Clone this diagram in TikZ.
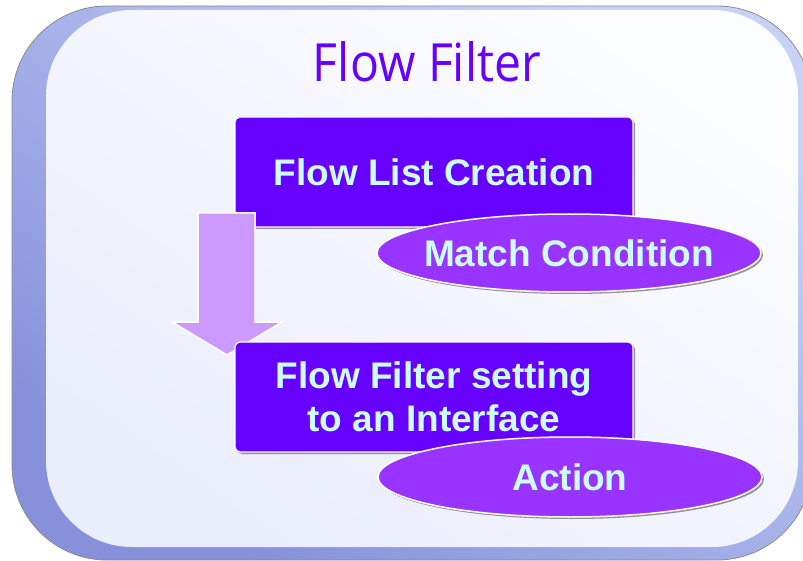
\documentclass[tikz,border=0pt]{standalone}
\usepackage{fontspec}
\setmainfont{Liberation Sans}
\newfontfamily\titlefont{Open Sans}
\usetikzlibrary{shapes.geometric,shadows}
\definecolor{boxpurple}{HTML}{6600FF}
\definecolor{ellpurple}{HTML}{9933FF}
\definecolor{arrowlilac}{HTML}{CC99FF}
\definecolor{lightcyan}{HTML}{CCFFFF}
\definecolor{frameA}{HTML}{C6D3F7}
\definecolor{frameB}{HTML}{8690DB}
\definecolor{innerA}{HTML}{FCFDFF}
\definecolor{innerB}{HTML}{EAEDFB}
\begin{document}
\begin{tikzpicture}[x=1pt,y=-1pt,
  stepbox/.style={draw=white, line width=1.2pt, fill=boxpurple, rounded corners=5pt,
    minimum width=398pt, minimum height=110pt, inner sep=0pt, text=lightcyan,
    font=\fontsize{37}{43}\selectfont\bfseries, align=center,
    drop shadow={shadow xshift=2pt, shadow yshift=-2pt, fill=black, opacity=0.4}},
  condell/.style={ellipse, draw=white, line width=1.5pt, fill=ellpurple,
    minimum width=384pt, minimum height=78pt, inner sep=0pt, text=lightcyan,
    font=\fontsize{37}{43}\selectfont\bfseries,
    drop shadow={shadow xshift=2pt, shadow yshift=-2pt, fill=black, opacity=0.4}},
  flowarrow/.style={fill=arrowlilac, draw=white, line width=1.5pt, line join=miter},
  titletext/.style={text=boxpurple, inner sep=0pt, font=\titlefont},
]
\useasboundingbox (0,0) rectangle (803,561);
% frame
\path[draw=black!45, line width=0.8pt, rounded corners=95pt,
  shading=axis, top color=frameA, bottom color=frameB, shading angle=-35]
  (12,6) rectangle (812,560);
\path[rounded corners=86pt, shading=axis, top color=innerA, bottom color=innerB, shading angle=-35]
  (46,10) rectangle (798,547);
% title
\node[titletext, anchor=base] (title) at (427,82) {\resizebox{228pt}{40pt}{Flow Filter}};
% step 1
\node[stepbox] (b1) at (434,172) {Flow List Creation};
% arrow
\path[flowarrow] (198,213) -- (255,213) -- (255,322) -- (282,322) -- (227,355)
  -- (172,322) -- (198,322) -- cycle;
% step 2
\node[stepbox] (b2) at (434,397) {Flow Filter setting\\ to an Interface};
% ellipses
\node[condell] (e1) at (569,253) {\makebox[0pt]{Match Condition}};
\node[condell, minimum height=80pt] (e2) at (570,477) {\makebox[0pt]{Action}};
\end{tikzpicture}
\end{document}
